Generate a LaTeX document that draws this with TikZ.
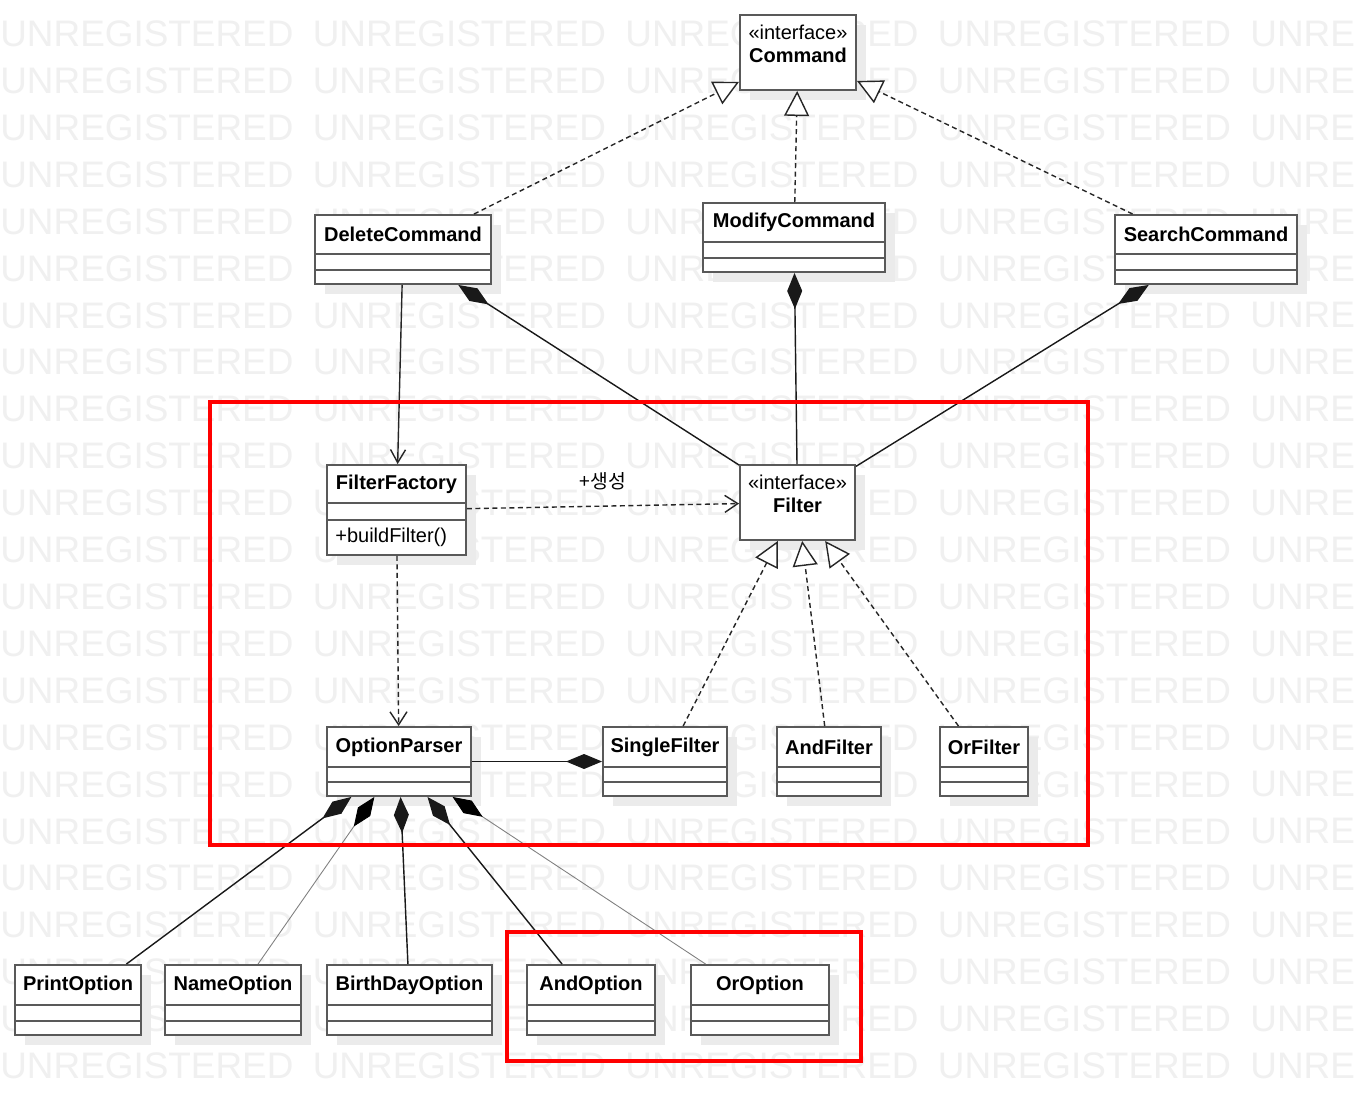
\documentclass[tikz,border=0pt]{standalone}
\usepackage{fontspec}
\setmainfont{Liberation Sans}
\newfontfamily\krfont{Noto Sans CJK KR}
\usetikzlibrary{arrows.meta,fit}

\tikzset{
  clsbox/.style={draw=black!65, line width=1.1pt, fill=white, inner sep=0pt},
  shadowbox/.style={fill=black!8},
  cline/.style={draw=black!65, line width=1.1pt},
  cname/.style={font=\fontsize{11.38}{13}\selectfont\bfseries, inner sep=0pt},
  ctext/.style={font=\fontsize{11.38}{13}\selectfont, inner sep=0pt},
  wmark/.style={font=\fontsize{21}{24}\selectfont, text=black!6, inner sep=0pt, anchor=west},
  realize/.style={draw=black!85, line width=0.8pt, dash pattern=on 0.1cm off 0.07cm,
    -{Triangle[length=0.5cm,width=0.5cm,fill=white]}},
  depend/.style={draw=black!85, line width=0.8pt, dash pattern=on 0.1cm off 0.07cm,
    -{Straight Barb[length=0.26cm,width=0.34cm]}},
  assoc/.style={draw=black!85, line width=0.8pt, -{Straight Barb[length=0.26cm,width=0.3cm]}},
  comp/.style={draw=black!90, line width=0.8pt, -{Diamond[length=0.72cm,width=0.3cm]}},
  compgray/.style={draw=black!50, line width=0.5pt, -{Diamond[length=0.72cm,width=0.3cm,color=black]}},
  redbox/.style={draw=red, line width=2.8pt},
  lbl/.style={font=\krfont\fontsize{11}{13}\selectfont, inner sep=0pt}
}

% #1 name, #2 x1, #3 y1, #4 x2, #5 y2, #6 line1, #7 line2, #8 text
\newcommand\umlclass[8]{%
  \fill[shadowbox] (#2+10,#3+10) rectangle (#4+10,#5+10);
  \coordinate (#1-nw) at (#2,#3);
  \coordinate (#1-se) at (#4,#5);
  \node[clsbox, fit=(#1-nw)(#1-se)] (#1) {};
  \draw[cline] (#2,#6) -- (#4,#6);
  \draw[cline] (#2,#7) -- (#4,#7);
  \node[cname] (#1-name) at ({(#2+#4)/2},{(#3+#6)/2}) {#8};
}
% #1 name, #2 x1, #3 y1, #4 x2, #5 y2, #6 text, #7 y stereotype, #8 y name
\newcommand\umliface[8]{%
  \fill[shadowbox] (#2+10,#3+10) rectangle (#4+10,#5+10);
  \coordinate (#1-nw) at (#2,#3);
  \coordinate (#1-se) at (#4,#5);
  \node[clsbox, fit=(#1-nw)(#1-se)] (#1) {};
  \node[ctext] (#1-st) at ({(#2+#4)/2},#7) {«interface»};
  \node[cname] (#1-name) at ({(#2+#4)/2},#8) {#6};
}

\begin{document}
\begin{tikzpicture}[x=0.02cm, y=-0.02cm]
\useasboundingbox (0,0) rectangle (1358,1097);
\fill[white] (0,0) rectangle (1358,1097);

% watermark
\foreach \r in {0,...,22} {
  \foreach \c/\w in {0/UNREGISTERED, 1/UNREGISTERED, 2/UNREGISTERED, 3/UNREGISTERED, 4/UNRE} {
    \node[wmark] (wm-\r-\c) at (\c*312.5, 34+\r*46.9) {\w};
  }
}

% classes
\umliface{cmd}{740}{15}{856}{90}{Command}{32}{55}
\umlclass{dc}{315}{215}{491}{284}{254}{270}{DeleteCommand}
\umlclass{mc}{703}{203}{885}{272}{242}{258}{ModifyCommand}
\umlclass{sc}{1115}{215}{1297}{284}{254}{270}{SearchCommand}
\umliface{flt}{740}{465}{855}{540}{Filter}{482}{505}
\umlclass{ff}{327}{465}{466}{555}{503}{520}{FilterFactory}
\node[ctext, anchor=west] (ff-op) at (335,537) {+buildFilter()};
\umlclass{op}{327}{727}{471}{796}{767}{782}{OptionParser}
\umlclass{sf}{603}{727}{727}{796}{767}{782}{SingleFilter}
\umlclass{af}{777}{727}{881}{796}{767}{782}{AndFilter}
\umlclass{of}{940}{727}{1028}{796}{767}{782}{OrFilter}
\umlclass{po}{15}{965}{141}{1035}{1005}{1021}{PrintOption}
\umlclass{no}{165}{965}{301}{1035}{1005}{1021}{NameOption}
\umlclass{bo}{327}{965}{492}{1035}{1005}{1021}{BirthDayOption}
\umlclass{ao}{527}{965}{655}{1035}{1005}{1021}{AndOption}
\umlclass{oo}{691}{965}{829}{1035}{1005}{1021}{OrOption}

% realizations
\draw[realize] (dc) -- (cmd);
\draw[realize] (mc) -- (cmd);
\draw[realize] (sc) -- (cmd);
\draw[realize] (sf) -- (flt);
\draw[realize] (af) -- (flt);
\draw[realize] (of) -- (flt);

% compositions
\draw[comp] (flt) -- (dc);
\draw[comp] (flt) -- (mc);
\draw[comp] (flt) -- (sc);
\draw[comp] (op) -- (sf);
\draw[comp] (po) -- (op);
\draw[compgray] (no) -- (op);
\draw[comp] (bo) -- (op);
\draw[comp] (ao) -- (op);
\draw[compgray] (oo) -- (op);

% associations / dependencies
\draw[assoc] (dc) -- (ff);
\draw[depend] (ff) -- (flt);
\node[lbl] (gen) at (603,481) {+생성};
\draw[depend] (ff) -- (op);

% highlight boxes
\draw[redbox] (210,402) rectangle (1088,845);
\draw[redbox] (507,932) rectangle (861,1061);
\end{tikzpicture}
\end{document}
